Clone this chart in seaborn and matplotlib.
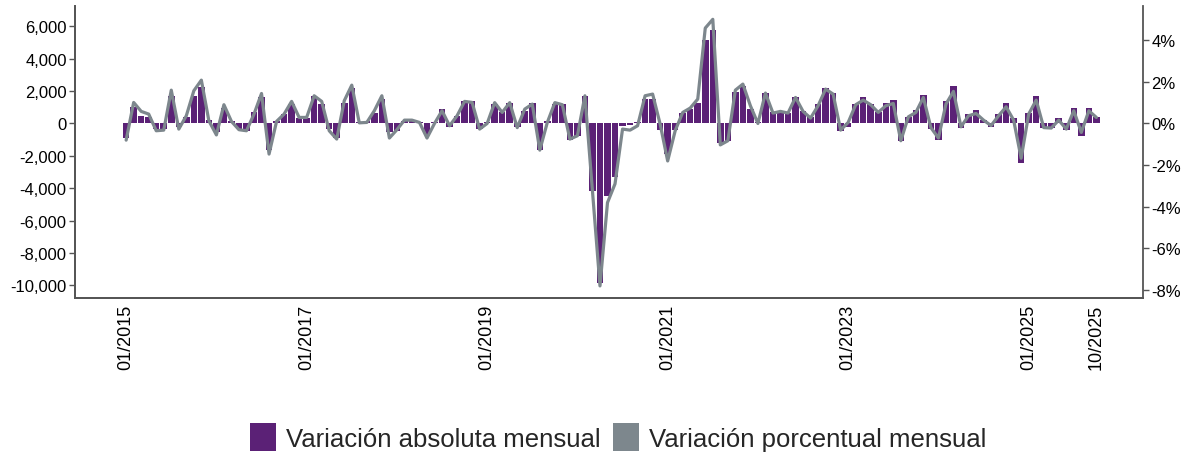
import numpy as np
import pandas as pd
import matplotlib
matplotlib.use("Agg")
import matplotlib.pyplot as plt
from matplotlib.patches import Patch
from matplotlib.ticker import FuncFormatter
import seaborn as sns

# ---- data ----
months = [f"{m:02d}/{y}" for y in range(2015, 2026) for m in range(1, 13)][:130]

abs_var = [
    -900, 990, 470, 370, -350, -350, 1710, -250, 370, 1710, 2270, 200,
    -560, 950, 160, -350, -450, 680, 1650, -1650, 160, 580, 1200, 330,
    330, 1710, 1200, -350, -900, 1240, 2180, 60, 120, 620, 1500, -560,
    -450, 120, 120, 60, -700, 60, 890, -200, 470, 1360, 1360, -350,
    60, 1200, 680, 1240, -250, 780, 1240, -1650, 160, 1200, 1200, -1030,
    -760, 1710, -4160, -9830, -4470, -3340, -150, -80, 100, 1500, 1500, -400,
    -1900, -410, 620, 890, 1240, 5150, 5770, -1240, -1110, 1920, 2330, 890,
    80, 1870, 680, 680, 640, 1650, 740, 370, 1200, 2180, 1870, -490,
    -250, 1200, 1600, 1200, 680, 1240, 1440, -1110, 410, 820, 1750, -350,
    -1030, 1360, 2330, -290, 580, 820, 200, -200, 580, 1240, 330, -2470,
    620, 1710, -290, -290, 330, -410, 930, -760, 930, 370,
]

pct_var = [
    -0.80, 1.01, 0.58, 0.45, -0.35, -0.32, 1.60, -0.27, 0.37, 1.57, 2.08, 0.13,
    -0.55, 0.90, 0.10, -0.30, -0.35, 0.45, 1.44, -1.47, 0.10, 0.45, 1.06, 0.29,
    0.29, 1.33, 1.06, -0.35, -0.75, 1.09, 1.84, 0.03, 0.05, 0.61, 1.33, -0.70,
    -0.30, 0.16, 0.16, 0.05, -0.70, 0.00, 0.61, -0.11, 0.37, 1.06, 1.01, -0.27,
    0.00, 1.00, 0.53, 1.00, -0.20, 0.69, 0.93, -1.28, 0.05, 1.00, 0.90, -0.75,
    -0.59, 1.33, -3.24, -7.80, -3.80, -2.90, -0.27, -0.32, -0.11, 1.33, 1.41, -0.03,
    -1.80, -0.35, 0.53, 0.74, 1.17, 4.58, 5.00, -1.03, -0.83, 1.60, 1.89, 0.85,
    0.00, 1.46, 0.50, 0.58, 0.50, 1.25, 0.58, 0.26, 0.85, 1.65, 1.41, -0.32,
    0.05, 0.90, 1.12, 0.90, 0.53, 0.85, 0.96, -0.83, 0.32, 0.53, 1.25, -0.20,
    -0.70, 0.93, 1.54, -0.16, 0.37, 0.48, 0.16, -0.10, 0.37, 0.80, 0.16, -1.67,
    0.45, 1.12, -0.20, -0.22, 0.16, -0.27, 0.61, -0.43, 0.61, 0.29,
]

tick_labels = ["01/2015", "01/2017", "01/2019", "01/2021", "01/2023", "01/2025", "10/2025"]
left_ticks = [-10000, -8000, -6000, -4000, -2000, 0, 2000, 4000, 6000]
right_ticks = [-8, -6, -4, -2, 0, 2, 4]
series_names = ["Variación absoluta mensual", "Variación porcentual mensual"]

# ---- style ----
PURPLE = "#5B2176"
GRAY = "#7D878D"
SPINE = "#555555"

sns.set_style("white")
plt.rcParams["font.family"] = ["Liberation Sans", "DejaVu Sans"]

df = pd.DataFrame({"mes": months, "abs": abs_var, "pct": pct_var, "idx": np.arange(len(months))})

fig = plt.figure(figsize=(11.96, 4.56), dpi=100)
ax = fig.add_axes([75 / 1196, 1 - 299 / 456, (1143 - 75) / 1196, (299 - 7) / 456])

sns.barplot(data=df, x="mes", y="abs", color=PURPLE, saturation=1, width=0.87,
            ax=ax, errorbar=None, order=months, edgecolor="none", linewidth=0)
ax2 = ax.twinx()
sns.lineplot(data=df, x="idx", y="pct", color=GRAY, linewidth=2.3, ax=ax2,
             solid_joinstyle="round", solid_capstyle="round")

ax.set_xlim(-6.8, 135.2)
ax.set_ylim(-10780, 7240)
ax2.set_ylim(-8.38, 5.64)

ax.set_xticks([months.index(t) for t in tick_labels])
ax.set_xticklabels(tick_labels, rotation=90)
ax.set_yticks(left_ticks)
ax.yaxis.set_major_formatter(FuncFormatter(lambda v, p: f"{int(v):,}"))
ax2.set_yticks(right_ticks)
ax2.yaxis.set_major_formatter(FuncFormatter(lambda v, p: f"{int(v)}%"))

for a in (ax, ax2):
    a.set_xlabel("")
    a.set_ylabel("")
    a.spines["top"].set_visible(False)
    for s in ("left", "right", "bottom"):
        a.spines[s].set_color(SPINE)
        a.spines[s].set_linewidth(1.3)
    a.tick_params(axis="both", direction="out", length=4, width=1, color=SPINE,
                  labelsize=12, labelcolor="black")
ax.tick_params(axis="x", labelsize=13, pad=0, length=4)
ax.tick_params(axis="y", left=True, pad=2)
ax2.tick_params(axis="y", right=True, pad=2)
ax.spines["right"].set_visible(False)

handles = [Patch(facecolor=PURPLE, edgecolor="none"), Patch(facecolor=GRAY, edgecolor="none")]
fig.legend(handles, series_names, loc="center", bbox_to_anchor=(0.517, 1 - 438 / 456),
           ncol=2, frameon=False, fontsize=18.5, handlelength=1.0, handleheight=1.3,
           handletextpad=0.4, columnspacing=0.5)

fig.savefig("out.png", dpi=100)
